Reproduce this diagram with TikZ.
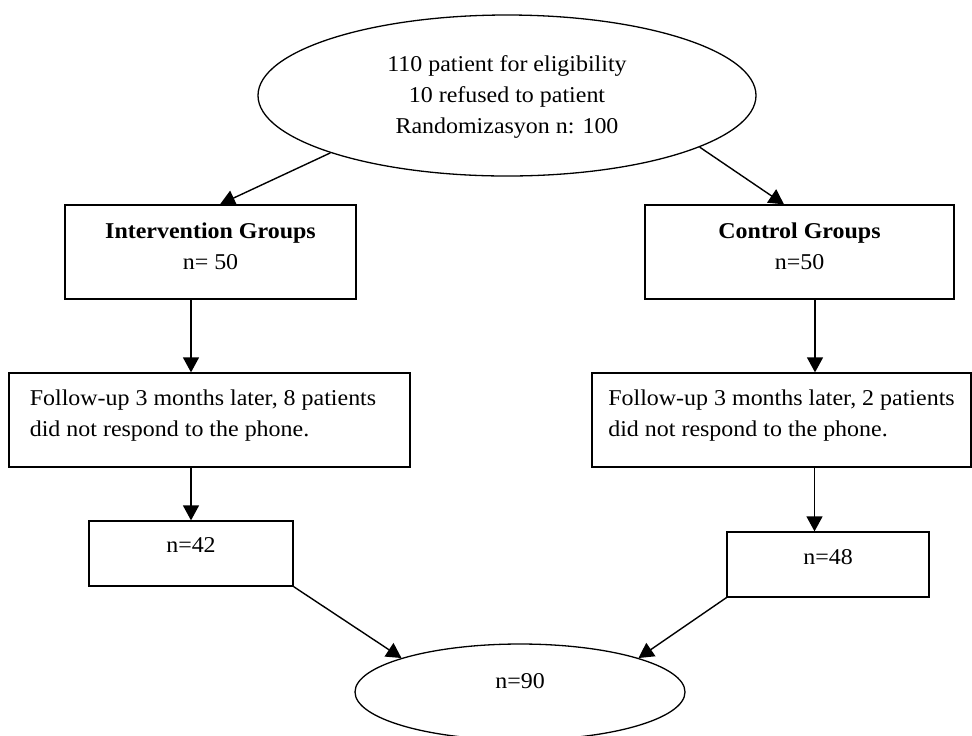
\documentclass[tikz,border=0pt]{standalone}
\usepackage{fontspec}
\setmainfont{Liberation Serif}[FakeStretch=1.06]
\usetikzlibrary{arrows.meta,shapes.geometric,positioning}

\begin{document}
\begin{tikzpicture}[x=0.5pt,y=-0.5pt,font=\fontsize{11.3}{15.5}\selectfont,
  box/.style={draw,line width=0.65pt,rectangle,align=center,inner sep=0pt},
  oval/.style={draw,line width=0.65pt,ellipse,align=center,inner sep=0pt},
  arr/.style={-{Triangle[length=7.5pt,width=8pt]},line width=0.7pt}]
  \useasboundingbox (0,0) rectangle (972,735);
  % ovals
  \node[oval,minimum width=249pt,minimum height=80.5pt,text depth=1.2pt] (rand) at (507,95.5) {110 patient for eligibility\\10 refused to patient\\Randomizasyon n: 100};
  \node[oval,minimum width=165pt,minimum height=48pt,text depth=10.65pt] (res) at (520,692) {n=90};
  % group boxes
  \node[box,minimum width=145.5pt,minimum height=47pt,text depth=5.5pt] (int) at (210.5,252) {\textbf{Intervention Groups}\\n= 50};
  \node[box,minimum width=154.5pt,minimum height=47pt,text depth=5.5pt] (ctrl) at (799.5,252) {\textbf{Control Groups}\\n=50};
  % follow-up boxes
  \node[box,align=left,minimum width=200.5pt,minimum height=47pt,text depth=7.2pt] (fu1) at (209.5,420) {Follow-up 3 months later, 8 patients\hspace*{6.5pt}\\did not respond to the phone.};
  \node[box,align=left,minimum width=189.5pt,minimum height=47pt,text depth=7.2pt] (fu2) at (781.5,420) {Follow-up 3 months later, 2 patients\\did not respond to the phone.};
  % remaining
  \node[box,minimum width=102pt,minimum height=32.5pt,text depth=8.15pt] (n42) at (191,553.5) {n=42};
  \node[box,minimum width=101pt,minimum height=32.5pt,text depth=7.15pt] (n48) at (828,564.5) {n=48};
  % arrows
  \draw[arr] (rand.-162) -- ([xshift=4.75pt]int.north);
  \draw[arr] (rand.-15) -- ([xshift=-7.75pt]ctrl.north);
  \draw[arr] ([xshift=-9.75pt]int.south) -- ([xshift=-9.75pt]int.south |- fu1.north);
  \draw[arr] ([xshift=7.75pt]ctrl.south) -- ([xshift=7.75pt]ctrl.south |- fu2.north);
  \draw[arr] (fu1.south -| n42.north) -- (n42.north);
  \draw[arr] ([xshift=-6.75pt]n48.north |- fu2.south) -- ([xshift=-6.75pt]n48.north);
  \foreach \a/\b in {n42.south east/res.164,n48.south west/res.16}
    \draw[arr] (\a) -- (\b);
\end{tikzpicture}
\end{document}
